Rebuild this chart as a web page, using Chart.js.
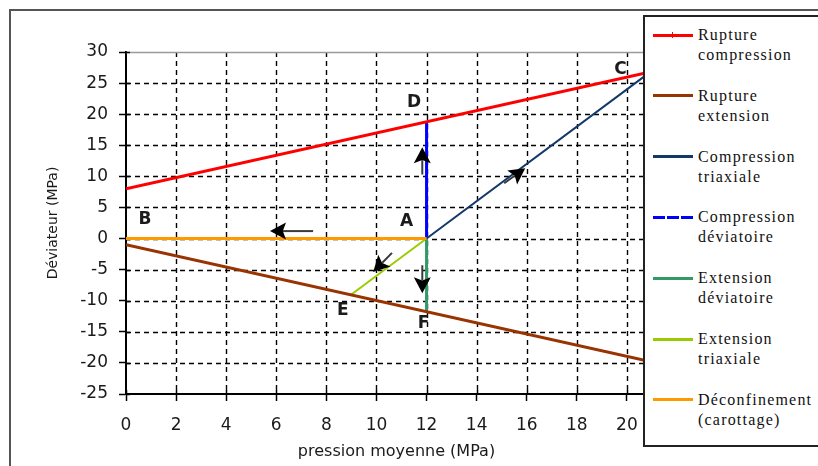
<!DOCTYPE html>
<html><head><meta charset="utf-8">
<script src="https://cdn.jsdelivr.net/npm/chart.js@4/dist/chart.umd.min.js"></script>
<style>
html,body{margin:0;padding:0;background:#fff;}
#wrap{position:relative;width:818px;height:466px;overflow:hidden;background:#fff;}
#frame{position:absolute;left:9px;top:9px;width:900px;height:500px;border-left:2px solid #555;border-top:2px solid #555;}
#c{position:absolute;left:0;top:0;}
#legend{position:absolute;left:643px;top:15px;width:200px;height:428px;border:2px solid #222;background:#fff;font-family:"Liberation Serif","Times New Roman",serif;font-size:16px;letter-spacing:1.2px;color:#111;}
.sample{position:absolute;left:8px;width:40px;height:3px;}
.txt{position:absolute;left:53px;line-height:20px;white-space:nowrap;}
</style></head><body>
<div id="wrap"><div id="frame"></div><canvas id="c" width="818" height="466"></canvas><div id="legend"></div></div>
<script>
// ---- data ----
const seriesNames = ['Rupture compression','Rupture extension','Compression triaxiale','Compression déviatoire','Extension déviatoire','Extension triaxiale','Déconfinement (carottage)'];
const legendLines = [['Rupture','compression'],['Rupture','extension'],['Compression','triaxiale'],['Compression','déviatoire'],['Extension','déviatoire'],['Extension','triaxiale'],['Déconfinement','(carottage)']];
const ruptureCompression = [{x:0,y:8},{x:21.6,y:27.4}];
const ruptureExtension   = [{x:0,y:-1},{x:21.6,y:-20.4}];
const compTriaxiale      = [{x:12,y:0},{x:20.95,y:26.85}];
const compDeviatoire     = [{x:12,y:0},{x:12,y:18.8}];
const extDeviatoire      = [{x:12,y:0},{x:12,y:-11.8}];
const extTriaxiale       = [{x:12,y:0},{x:8.97,y:-9.07}];
const deconfinement      = [{x:0,y:0},{x:12,y:0}];
const xTicks = [0,2,4,6,8,10,12,14,16,18,20];
const yTicks = [-25,-20,-15,-10,-5,0,5,10,15,20,25,30];
const pointLabels = [
  {t:'A',x:11.2,y:2.7},{t:'B',x:0.76,y:2.97},{t:'C',x:19.74,y:27.1},
  {t:'D',x:11.5,y:21.9},{t:'E',x:8.66,y:-11.6},{t:'F',x:11.88,y:-13.6}
];
const arrows = [
  {x1:7.47,y1:1.2,x2:5.75,y2:1.2},
  {x1:11.83,y1:10.3,x2:11.83,y2:14.7},
  {x1:15.1,y1:8.9,x2:15.94,y2:11.3},
  {x1:10.62,y1:-2.3,x2:9.87,y2:-5.4},
  {x1:11.83,y1:-4.3,x2:11.83,y2:-8.8}
];
const colors = ['#FF0000','#993300','#13386A','#0000FF','#339966','#99CC00','#FF9900'];
const widths = [3,3,2,3,3,2,3];
const seriesData = [ruptureCompression,ruptureExtension,compTriaxiale,compDeviatoire,extDeviatoire,extTriaxiale,deconfinement];
const drawOrder = [6,1,0,2,3,4,5];

function seg(ctx,x1,y1,x2,y2){ctx.beginPath();ctx.moveTo(x1,y1);ctx.lineTo(x2,y2);ctx.stroke();}

const customDraw = {
  id:'customDraw',
  beforeDatasetsDraw(chart){
    const {ctx, chartArea:a, scales:{x,y}} = chart;
    ctx.save();
    ctx.strokeStyle='#000'; ctx.lineWidth=1.4; ctx.setLineDash([5,4]);
    xTicks.forEach(v=>{ if(v===0) return; const px=Math.round(x.getPixelForValue(v))+0.5; seg(ctx,px,a.top,px,a.bottom); });
    yTicks.forEach(v=>{ if(v===-25||v===30) return; const py=Math.round(y.getPixelForValue(v))+0.5; seg(ctx,a.left,py,a.right,py); });
    ctx.setLineDash([]);
    ctx.strokeStyle='#9a9a9a'; ctx.lineWidth=1.5; seg(ctx,a.left,a.top+0.5,a.right,a.top+0.5);
    ctx.strokeStyle='#000'; ctx.lineWidth=1.5;
    yTicks.forEach(v=>{ const py=Math.round(y.getPixelForValue(v))+0.5; seg(ctx,a.left,py,a.left+4,py); });
    xTicks.forEach(v=>{ const px=Math.round(x.getPixelForValue(v))+0.5; seg(ctx,px,a.bottom,px,a.bottom-4); });
    ctx.restore();
  },
  afterDatasetsDraw(chart){
    const {ctx, scales:{x,y}} = chart;
    ctx.save();
    arrows.forEach(ar=>{
      const X1=x.getPixelForValue(ar.x1), Y1=y.getPixelForValue(ar.y1);
      const X2=x.getPixelForValue(ar.x2), Y2=y.getPixelForValue(ar.y2);
      const ang=Math.atan2(Y2-Y1,X2-X1), L=16, W=8.5;
      const bx=X2-L*Math.cos(ang), by=Y2-L*Math.sin(ang);
      ctx.strokeStyle='#3a3a3a'; ctx.lineWidth=2;
      seg(ctx,X1,Y1,bx+3*Math.cos(ang),by+3*Math.sin(ang));
      ctx.fillStyle='#000';
      ctx.beginPath();
      ctx.moveTo(X2,Y2);
      ctx.lineTo(bx+W*Math.sin(ang), by-W*Math.cos(ang));
      ctx.lineTo(X2-0.8*L*Math.cos(ang), Y2-0.8*L*Math.sin(ang));
      ctx.lineTo(bx-W*Math.sin(ang), by+W*Math.cos(ang));
      ctx.closePath(); ctx.fill();
    });
    ctx.font='bold 17px "DejaVu Sans", sans-serif';
    ctx.fillStyle='#1b1b1b'; ctx.textAlign='center'; ctx.textBaseline='middle';
    pointLabels.forEach(p=>ctx.fillText(p.t, x.getPixelForValue(p.x), y.getPixelForValue(p.y)));
    ctx.restore();
  }
};

const datasets = drawOrder.map(i=>({
  label: seriesNames[i], data: seriesData[i], showLine:true,
  borderColor: colors[i], backgroundColor: colors[i], borderWidth: widths[i],
  pointRadius:0, fill:false, tension:0
}));

const tickFont = {family:'"DejaVu Sans", sans-serif', size:17};
new Chart(document.getElementById('c'), {
  type:'scatter',
  data:{datasets},
  options:{
    responsive:false, animation:false,
    layout:{padding:{left:0,top:52,right:151,bottom:0}},
    plugins:{legend:{display:false}, tooltip:{enabled:false}},
    scales:{
      x:{type:'linear', min:0, max:21.6,
        afterBuildTicks:s=>{s.ticks=xTicks.map(v=>({value:v}));},
        afterFit:s=>{s.height=72;},
        ticks:{font:tickFont, color:'#1a1a1a', padding:14, maxRotation:0, callback:v=>String(v)},
        grid:{display:true, drawOnChartArea:false, drawTicks:true, tickLength:7, tickColor:'#000', tickWidth:1.5},
        border:{display:true, color:'#000', width:2},
        title:{display:true, text:'pression moyenne (MPa)', font:{family:'"DejaVu Sans", sans-serif', size:16}, color:'#1a1a1a', padding:{top:0,bottom:5}}
      },
      y:{type:'linear', min:-25, max:30,
        afterBuildTicks:s=>{s.ticks=yTicks.map(v=>({value:v}));},
        afterFit:s=>{s.width=126;},
        ticks:{font:tickFont, color:'#1a1a1a', padding:11, callback:v=>String(v)},
        grid:{display:true, drawOnChartArea:false, drawTicks:true, tickLength:7, tickColor:'#000', tickWidth:1.5},
        border:{display:true, color:'#000', width:2},
        title:{display:true, text:'Déviateur (MPa)', font:{family:'"DejaVu Sans", sans-serif', size:14}, color:'#1a1a1a', padding:{top:45,bottom:0}}
      }
    }
  },
  plugins:[customDraw]
});

// HTML legend built from the series
const leg = document.getElementById('legend');
legendLines.forEach((lines,i)=>{
  const cy = 18 + i*60.8;
  const s = document.createElement('div'); s.className='sample';
  s.style.top=(cy-1.5)+'px';
  if(i===3){ s.style.background='repeating-linear-gradient(90deg,'+colors[i]+' 0 12px,transparent 12px 14px)'; }
  else s.style.background=colors[i];
  leg.appendChild(s);
  if(i===0){ const m=document.createElement('div'); m.style.cssText='position:absolute;left:27px;width:1px;height:6px;background:'+colors[0]+';top:'+(cy-3)+'px'; leg.appendChild(m); }
  const t = document.createElement('div'); t.className='txt';
  t.style.top=(cy-10)+'px';
  t.innerHTML = lines.join('<br>');
  leg.appendChild(t);
});
</script>
</body></html>
